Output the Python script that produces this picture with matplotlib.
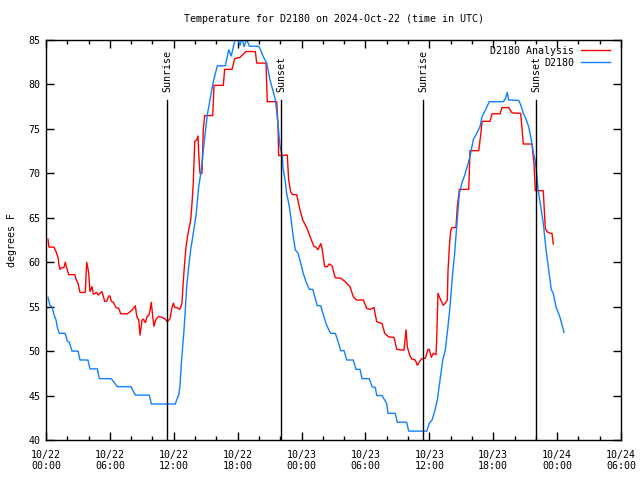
import matplotlib
matplotlib.use('Agg')
import matplotlib.pyplot as plt
import matplotlib.dates as mdates
from matplotlib.ticker import MultipleLocator
import pandas as pd

# hours since 2024-10-22 00:00 UTC, temperature in F
red_hours = [0.19, 0.28, 0.75, 0.94, 1.16, 1.19, 1.31, 1.50, 1.69, 1.81, 1.94, 2.13, 2.70, 2.82,
             3.01, 3.19, 3.69, 3.82, 3.94, 4.01, 4.13, 4.32, 4.44, 4.76, 4.91, 5.07, 5.26, 5.51,
             5.70, 5.89, 6.01, 6.13, 6.32, 6.57, 6.83, 7.02, 7.64, 8.08, 8.39, 8.52, 8.71, 8.83,
             9.02, 9.14, 9.33, 9.51, 9.65, 9.77, 9.89, 10.02, 10.14, 10.33, 10.58, 10.89, 11.20,
             11.39, 11.65, 11.83, 11.96, 12.09, 12.33, 12.52, 12.65, 12.77, 12.89, 13.03, 13.15,
             13.34, 13.59, 13.71, 13.83, 13.97, 14.15, 14.28, 14.34, 14.46, 14.65, 14.77, 14.90,
             15.66, 15.78, 16.65, 16.78, 17.47, 17.72, 18.22, 18.78, 19.66, 19.79, 20.66, 20.78,
             21.67, 21.79, 21.85, 22.66, 22.79, 22.98, 23.17, 23.54, 23.85, 24.11, 24.48, 24.79,
             25.17, 25.36, 25.54, 25.80, 25.92, 26.17, 26.42, 26.61, 26.86, 27.17, 27.68, 28.11,
             28.55, 28.86, 29.18, 29.80, 30.12, 30.43, 30.80, 31.06, 31.56, 31.81, 32.18, 32.68,
             32.94, 33.62, 33.81, 33.93, 34.18, 34.37, 34.68, 34.87, 35.12, 35.31, 35.62, 35.88,
             36.00, 36.19, 36.37, 36.63, 36.69, 36.81, 37.07, 37.31, 37.50, 37.69, 37.75, 37.88,
             38.01, 38.13, 38.50, 38.63, 38.82, 39.70, 39.82, 40.64, 40.82, 40.95, 41.70, 41.89,
             42.64, 42.82, 43.45, 43.76, 44.58, 44.83, 45.64, 45.83, 45.95, 46.70, 46.89, 47.08,
             47.40, 47.52, 47.64]
red_temps = [62.6, 61.7, 61.7, 61.2, 60.4, 59.9, 59.2, 59.4, 59.4, 60.0, 59.4, 58.6, 58.6, 58.1,
             57.6, 56.6, 56.6, 60.0, 59.3, 58.75, 56.7, 57.25, 56.4, 56.6, 56.3, 56.5, 56.7, 55.6,
             55.6, 56.2, 56.2, 55.6, 55.5, 54.9, 54.8, 54.2, 54.2, 54.6, 55.1, 53.9, 53.5, 51.8,
             53.5, 53.6, 53.2, 53.95, 54.0, 54.6, 55.5, 53.9, 52.8, 53.6, 53.9, 53.8, 53.6,
             53.3, 53.65, 54.9, 55.4, 54.9, 54.9, 54.7, 54.9, 55.4, 57.8, 60.05, 61.75,
             63.25, 64.75, 66.6, 68.9, 73.6, 73.75, 74.2, 72.25, 70.0, 70.0, 74.9, 76.5,
             76.5, 79.9, 79.9, 81.7, 81.7, 82.9, 83.05, 83.7, 83.7, 82.4, 82.4, 78.06,
             78.06, 75.25, 72.0, 72.06, 69.25, 67.9, 67.6, 67.6, 65.9, 64.75, 63.9, 62.9,
             61.75, 61.7, 61.4, 62.1, 61.6, 59.5, 59.5, 59.8, 59.6, 58.25, 58.2, 57.8,
             57.25, 56.1, 55.75, 55.75, 54.8, 54.7, 54.9, 53.3, 53.1, 52.0, 51.6, 51.55,
             50.2, 50.1, 52.4, 50.5, 49.45, 49.1, 49.0, 48.4, 48.9, 49.15, 49.2, 50.2,
             50.2, 49.3, 49.75, 49.6, 51.3, 56.5, 55.75, 55.15, 55.4, 55.75, 58.9, 61.75,
             63.6, 63.9, 63.9, 66.25, 68.2, 68.2, 72.55, 72.55, 74.3, 75.85, 75.85, 76.7,
             76.7, 77.4, 77.4, 76.8, 76.75, 73.3, 73.3, 71.1, 68.05, 68.05, 63.8, 63.4,
             63.25, 63.25, 62.05]

blue_hours = [0.19, 0.38, 0.56, 0.75, 0.94, 1.06, 1.25, 1.81, 2.00, 2.19, 2.44, 3.01, 3.19, 3.94,
              4.13, 4.82, 5.01, 6.13, 6.70, 7.98, 8.39, 9.70, 9.89, 12.14, 12.27, 12.46, 12.58,
              12.71, 12.84, 12.96, 13.08, 13.21, 13.40, 13.59, 13.83, 14.09, 14.34, 14.59, 14.77,
              15.15, 15.71, 16.09, 16.84, 17.16, 17.40, 17.66, 17.91, 18.22, 18.41, 18.60, 18.85,
              19.09, 19.98, 20.10, 20.41, 20.73, 21.04, 21.54, 21.72, 21.98, 22.20, 22.26, 22.47,
              22.60, 22.85, 23.04, 23.22, 23.41, 23.67, 23.92, 24.16, 24.42, 24.73, 25.05, 25.24,
              25.48, 25.80, 26.04, 26.30, 26.55, 26.74, 27.17, 27.42, 27.68, 27.99, 28.24, 28.86,
              29.11, 29.49, 29.68, 30.36, 30.62, 30.93, 31.06, 31.56, 32.00, 32.12, 32.80, 32.99,
              33.87, 34.06, 35.75, 36.00, 36.25, 36.50, 36.75, 37.00, 37.26, 37.50, 37.75, 37.94,
              38.19, 38.38, 38.57, 38.82, 39.07, 39.32, 39.57, 39.82, 40.13, 40.45, 40.76, 40.95,
              41.26, 41.63, 42.95, 43.14, 43.32, 43.45, 44.39, 44.58, 44.83, 45.08, 45.33, 45.58,
              45.76, 45.95, 46.08, 46.21, 46.46, 46.70, 46.96, 47.21, 47.45, 47.64, 47.89, 48.27,
              48.65]
blue_temps = [56.05, 55.1, 55.0, 54.1, 53.5, 52.7, 52.0, 52.0, 51.1, 51.0, 50.0, 50.0, 49.0, 49.0,
              48.0, 48.0, 46.9, 46.9, 46.0, 46.0, 45.05, 45.05, 44.05, 44.05, 44.5, 45.05, 46.05,
              48.6, 50.5, 52.4, 54.6, 57.25, 59.5, 61.4, 63.25, 65.25, 68.5, 70.4, 72.6,
              76.6, 80.3, 82.1, 82.1, 83.9, 83.2, 84.6, 85.5, 84.4, 85.3, 84.25, 85.1,
              84.3, 84.3, 84.0, 83.1, 82.4, 80.5, 78.3, 76.4, 73.0, 71.9, 70.6, 69.1,
              67.75, 66.25, 64.6, 62.9, 61.4, 61.0, 59.9, 58.75, 57.8, 56.95, 56.95, 56.1,
              55.1, 55.1, 54.1, 53.1, 52.4, 52.0, 52.0, 51.1, 50.05, 50.05, 49.0, 49.0,
              47.95, 47.95, 46.9, 46.9, 46.0, 45.9, 45.0, 45.0, 44.1, 43.0, 43.0, 42.0,
              42.0, 41.0, 41.0, 41.9, 42.25, 43.2, 44.5, 46.75, 49.0, 50.1, 52.75, 55.0,
              58.75, 61.0, 64.0, 67.75, 68.95, 69.8, 70.8, 71.9, 73.8, 74.5, 75.25, 76.4,
              77.1, 78.06, 78.06, 78.4, 79.1, 78.25, 78.2, 77.7, 76.75, 76.1, 75.25, 73.75,
              72.4, 71.35, 69.95, 68.25, 66.25, 64.4, 61.4, 59.1, 56.95, 56.5, 55.0, 53.8,
              52.1]

sun_labels = ["Sunrise", "Sunset", "Sunrise", "Sunset"]
sun_hours = [11.39, 22.10, 35.43, 46.05]

start = pd.Timestamp("2024-10-22 00:00")
def to_time(hours):
    return start + pd.to_timedelta(hours, unit="h")

FS = 7.2
plt.rcParams['font.family'] = ['DejaVu Sans Mono']
plt.rcParams['font.size'] = FS

fig = plt.figure(figsize=(6.4, 4.8), dpi=100)
ax = fig.add_axes([46 / 640, 40 / 480, 575 / 640, 400 / 480])

ax.plot(to_time(red_hours), red_temps, color="#ff0000", linewidth=1.0, label="D2180 Analysis")
ax.plot(to_time(blue_hours), blue_temps, color="#1080ff", linewidth=1.0, label="D2180")

for name, h in zip(sun_labels, sun_hours):
    t = to_time(h)
    ax.plot([t, t], [40, 78.25], color="black", linewidth=1.0)
    ax.text(t, 79.1, name, rotation=90, ha="center", va="bottom", fontsize=FS)

ax.set_xlim(start, to_time(54))
ax.set_ylim(40, 85)
ax.xaxis.set_major_locator(mdates.HourLocator(byhour=[0, 6, 12, 18]))
ax.xaxis.set_minor_locator(mdates.HourLocator(interval=2))
ax.xaxis.set_major_formatter(mdates.DateFormatter("%m/%d\n%H:%M"))
ax.yaxis.set_major_locator(MultipleLocator(5))

ax.tick_params(which="both", direction="in", top=True, right=True, labelsize=FS,
               width=1, color="black")
ax.tick_params(axis="x", pad=7)
ax.tick_params(axis="y", pad=4)
ax.tick_params(which="major", length=6)
ax.tick_params(which="minor", length=3)
for s in ax.spines.values():
    s.set_linewidth(1)

ax.set_ylabel("degrees F", fontsize=FS, labelpad=8)
ax.set_title("Temperature for D2180 on 2024-Oct-22 (time in UTC)", fontsize=FS, pad=13)

leg = ax.legend(loc="upper right", bbox_to_anchor=(1 - 11 / 575, 1 - 6 / 400),
                frameon=False, markerfirst=False, fontsize=FS, borderpad=0, borderaxespad=0,
                handlelength=2.9, handletextpad=0.7, labelspacing=0.2)
for t in leg.get_texts():
    t.set_ha("right")

plt.savefig("out.png")
